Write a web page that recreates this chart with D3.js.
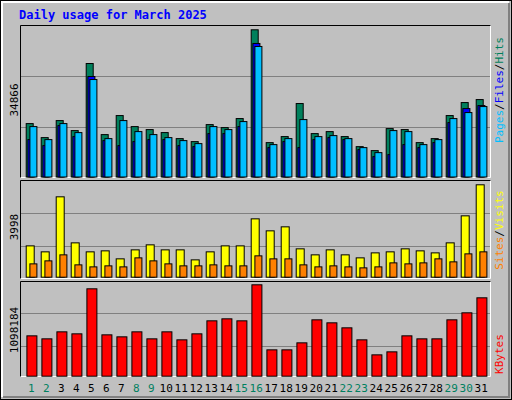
<!DOCTYPE html>
<html><head><meta charset="utf-8">
<script src="https://cdn.jsdelivr.net/npm/d3@7"></script>
<style>body{margin:0;background:#fff}</style></head><body>
<svg id="c" width="512" height="400"></svg>
<script>
const days = d3.range(1,32);
const weekendDays = [1,2,8,9,15,16,22,23,29,30];
const hits = [12650,9330,13360,10990,26880,10040,14550,11940,11230,10520,9090,8380,12410,11700,13840,34866,8140,9570,17400,10280,10750,9570,7190,6250,11460,11230,8140,9090,14550,17630,18340];
const files = [8856,7433,12177,9567,23800,8619,7433,8381,8856,8856,7433,7195,10279,10279,11940,31628,6958,8381,6958,8856,9330,8856,6484,4823,5298,7670,6958,8144,12888,16209,16921];
const pages = [11940,8856,12651,10516,23088,9093,13363,10754,10042,9330,8619,7907,11940,11228,13126,30916,7670,9093,13600,9567,9805,9093,6958,5772,10991,10754,7670,8856,13837,15261,16684];
const visits = [1356,1097,3478,1486,1097,1140,794,1183,1400,1183,1183,750,1097,1356,1356,2525,2006,2179,1227,967,1183,967,837,1053,1097,1227,1140,1053,1486,2655,3998];
const sites = [577,707,967,534,447,491,447,837,707,577,491,491,534,491,491,924,794,794,534,447,491,447,404,447,620,577,620,794,664,1010,1097];
const kbytes = [484968,448896,533064,509016,1050096,496992,472944,533064,448896,533064,436872,509016,665328,689376,665328,1098184,316632,316632,400800,677352,641280,581160,436872,256512,292584,484968,448896,448896,677352,761520,941880];
const maxLabels = ["34866","3998","1098184"];

const svg = d3.select("#c");
const font = "'DejaVu Sans Mono', monospace";
// background & bevel
svg.append("rect").attr("x",0).attr("y",0).attr("width",512).attr("height",400).attr("fill","#c0c0c0");
svg.append("rect").attr("x",0.5).attr("y",0.5).attr("width",511).attr("height",399).attr("fill","none").attr("stroke","#000");
svg.append("path").attr("d","M2,397V2H509").attr("fill","none").attr("stroke","#fff").attr("stroke-width",2);
svg.append("path").attr("d","M3,397H509V3").attr("fill","none").attr("stroke","#808080").attr("stroke-width",2);

svg.append("text").attr("x",19).attr("y",19).text("Daily usage for March 2025")
  .attr("font-family",font).attr("font-weight","bold").attr("font-size",12).attr("fill","#0000ff");

const x = d3.scaleLinear().domain([1,31]).range([25.7,475.7]);

function panel(top,bottom,base,maxv,maxTop,grids){
  svg.append("rect").attr("x",20).attr("y",top).attr("width",471).attr("height",bottom-top).attr("fill","#c0c0c0");
  svg.append("path").attr("d",`M20.5,${bottom}V${top+0.5}H491`).attr("fill","none").attr("stroke","#000");
  svg.append("path").attr("d",`M20.5,${bottom-0.5}H490.5V${top+0.5}`).attr("fill","none").attr("stroke","#fff");
  const y = d3.scaleLinear().domain([0,maxv]).range([base,maxTop]);
  grids.forEach(g=>svg.append("line").attr("x1",21).attr("x2",490).attr("y1",g).attr("y2",g).attr("stroke","#808080"));
  return y;
}
function bars(data,y,dx,w,color){
  svg.append("g").selectAll("rect").data(data).join("rect")
    .attr("x",(d,i)=>x(days[i])+dx+0.5).attr("width",w)
    .attr("y",d=>y(d)+0.5).attr("height",d=>y(0)-y(d))
    .attr("fill",color).attr("stroke","#000").attr("stroke-width",1);
}
// panel 1
const y1 = panel(25,178,176.5,34866,29.3,[76.5,127.5]);
bars(hits,y1,0,7,"#00805c");
bars(files,y1,1.7,7,"#0000ff");
bars(pages,y1,3.7,7,"#00bfff");
// panel 2
const y2 = panel(180,279,276.7,3998,184.3,[213.5,246.5]);
bars(visits,y2,0,8,"#ffff00");
bars(sites,y2,3.7,7,"#ff8000");
// panel 3
const y3 = panel(281,377,375.7,1098184,284.3,[313.5,346.5]);
bars(kbytes,y3,0.7,10,"#ff0000");

// y max labels
[[100,0],[227,1],[330,2]].forEach(([cy,i])=>{
  svg.append("text").attr("transform",`translate(18,${cy}) rotate(-90)`).attr("text-anchor","middle")
   .attr("font-family",font).attr("font-size",11).attr("fill","#000").text(maxLabels[i]);
});
// right labels
function rlabel(cy,parts){
  const t = svg.append("text").attr("transform",`translate(503,${cy}) rotate(-90)`).attr("text-anchor","middle")
    .attr("font-family",font).attr("font-size",11);
  parts.forEach(([s,c])=>t.append("tspan").attr("fill",c).text(s));
}
rlabel(90,[["Pages","#00bfff"],["/","#000"],["Files","#0000ff"],["/","#000"],["Hits","#00805c"]]);
rlabel(230,[["Sites","#ff8000"],["/","#000"],["Visits","#ffff00"]]);
rlabel(354,[["KBytes","#ff0000"]]);

// x labels
svg.append("g").selectAll("text").data(days).join("text")
  .attr("x",d=>x(d)+5.5).attr("y",392).attr("text-anchor","middle")
  .attr("font-family",font).attr("font-size",11)
  .attr("fill",d=>weekendDays.includes(d)?"#008060":"#000").text(d=>d);
</script></body></html>
